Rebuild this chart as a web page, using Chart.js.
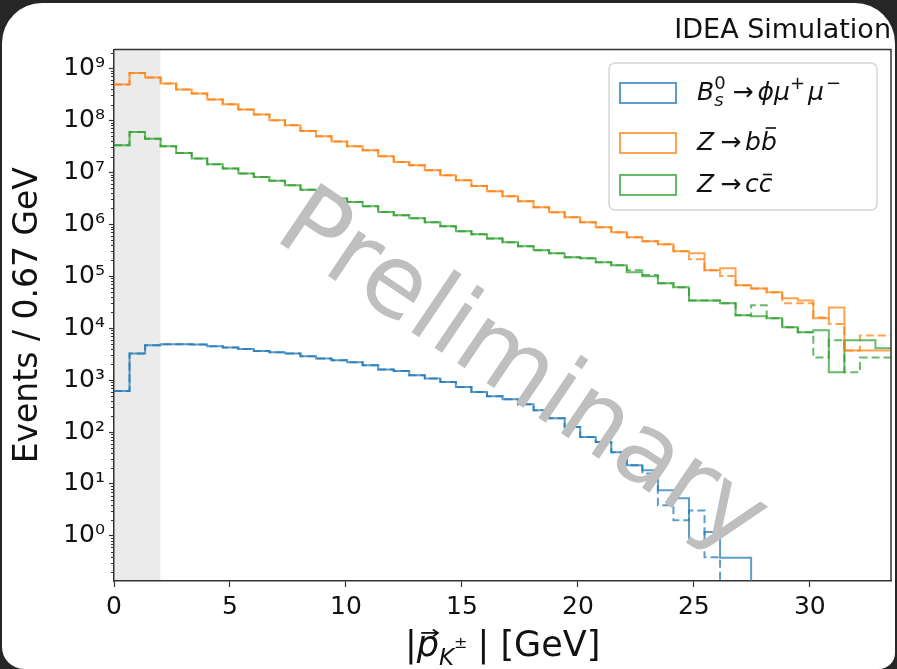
<!DOCTYPE html>
<html>
<head>
<meta charset="utf-8">
<script src="https://cdn.jsdelivr.net/npm/chart.js@4.4.1/dist/chart.umd.min.js"></script>
<style>
  html, body { margin: 0; padding: 0; }
  body { width: 897px; height: 669px; background: #262626; position: relative; overflow: hidden; }
  #frame { position: absolute; left: 2px; top: 3px; width: 893px; height: 666px; background: #fff;
           border-radius: 40px 40px 16px 22px; }
  #chart { position: absolute; left: 0; top: 0; }
</style>
</head>
<body>
<div id="frame"></div>
<canvas id="chart" width="897" height="669"></canvas>
<script>
// Histogram binning (GeV)
const binWidth = 0.67;
const xMax = 33.5;
const shadeRange = [0, 2];

// Events per bin (0 = empty bin)
const bsSolid = [617, 3240, 4670, 4880, 4880, 4820, 4470, 4220, 3960, 3630,
  3430, 3240, 2870, 2590, 2400, 2200, 1930, 1590, 1500, 1240,
  1070, 920, 736, 590, 488, 427, 342, 262, 184, 125,
  80, 64, 41, 23, 18.4, 7.6, 5.3, 0.77, 1.19, 0.38,
  0.38, 0, 0, 0, 0, 0, 0, 0, 0, 0];
const bsDashed = [617, 3240, 4670, 4880, 4880, 4820, 4470, 4220, 3960, 3630,
  3430, 3240, 2870, 2590, 2400, 2200, 1930, 1590, 1500, 1240,
  1070, 920, 736, 590, 488, 427, 342, 262, 184, 125,
  80, 64, 41, 23, 16, 3.9, 2.0, 3.1, 0.39, 0,
  0, 0, 0, 0, 0, 0, 0, 0, 0, 0];
const bbSolid = [4.85e8, 8.1e8, 6.6e8, 5.1e8, 3.9e8, 3.26e8, 2.5e8, 2.03e8, 1.6e8, 1.29e8,
  1.0e8, 8.0e7, 6.2e7, 4.9e7, 3.9e7, 3.15e7, 2.64e7, 2.02e7, 1.57e7, 1.36e7,
  1.09e7, 8.7e6, 7.0e6, 5.4e6, 4.3e6, 3.44e6, 2.75e6, 2.11e6, 1.69e6, 1.36e6,
  1.09e6, 8.7e5, 7.0e5, 5.6e5, 4.7e5, 4.1e5, 3.0e5, 2.75e5, 1.3e5, 1.42e5,
  6.7e4, 5.8e4, 4.9e4, 3.75e4, 3.4e4, 1.55e4, 2.5e4, 3.7e3, 3.7e3, 3.7e3];
const bbDashed = [4.85e8, 8.1e8, 6.6e8, 5.1e8, 3.9e8, 3.26e8, 2.5e8, 2.03e8, 1.6e8, 1.29e8,
  1.0e8, 8.0e7, 6.2e7, 4.9e7, 3.9e7, 3.15e7, 2.64e7, 2.02e7, 1.57e7, 1.36e7,
  1.09e7, 8.7e6, 7.0e6, 5.4e6, 4.3e6, 3.44e6, 2.75e6, 2.11e6, 1.69e6, 1.36e6,
  1.09e6, 8.7e5, 7.0e5, 5.6e5, 4.7e5, 4.1e5, 3.0e5, 2.1e5, 1.3e5, 1.0e5,
  6.7e4, 5.8e4, 4.9e4, 3.0e4, 3.0e4, 1.6e4, 1.2e4, 3.7e3, 7.2e3, 7.2e3];
const ccSolid = [3.3e7, 5.9e7, 4.4e7, 3.15e7, 2.34e7, 1.83e7, 1.42e7, 1.17e7, 9.4e6, 8.1e6,
  6.8e6, 5.6e6, 4.6e6, 3.6e6, 3.1e6, 2.67e6, 2.21e6, 1.71e6, 1.48e6, 1.3e6,
  1.09e6, 9.1e5, 7.3e5, 6.4e5, 5.3e5, 4.5e5, 3.75e5, 3.14e5, 2.75e5, 2.3e5,
  2.2e5, 1.85e5, 1.62e5, 1.19e5, 9.9e4, 7.3e4, 6.1e4, 3.4e4, 3.4e4, 3.0e4,
  1.77e4, 1.69e4, 1.55e4, 1.04e4, 8.3e3, 9.1e3, 1.41e3, 5.8e3, 5.8e3, 4.1e3];
const ccDashed = [3.3e7, 5.9e7, 4.4e7, 3.15e7, 2.34e7, 1.83e7, 1.42e7, 1.17e7, 9.4e6, 8.1e6,
  6.8e6, 5.6e6, 4.6e6, 3.6e6, 3.1e6, 2.67e6, 2.21e6, 1.71e6, 1.48e6, 1.3e6,
  1.09e6, 9.1e5, 7.3e5, 6.4e5, 5.3e5, 4.5e5, 3.75e5, 3.14e5, 2.75e5, 2.3e5,
  2.2e5, 1.85e5, 1.62e5, 1.3e5, 1.05e5, 7.3e4, 6.1e4, 3.4e4, 3.4e4, 3.0e4,
  1.77e4, 2.75e4, 1.55e4, 1.04e4, 8.3e3, 2.7e3, 5.8e3, 1.41e3, 2.7e3, 2.7e3];

// Axis ticks
const xTickValues = [0, 5, 10, 15, 20, 25, 30];
const yTickValues = [1e0, 1e1, 1e2, 1e3, 1e4, 1e5, 1e6, 1e7, 1e8, 1e9];
const yTickLabels = ['10⁰', '10¹', '10²', '10³', '10⁴', '10⁵', '10⁶', '10⁷', '10⁸', '10⁹'];
const yMin = 0.136;
const yMax = 2.3e9;

const FONT = '"DejaVu Sans", "Liberation Sans", sans-serif';
const colors = {
  bs: 'rgba(31,119,180,0.72)',
  bb: 'rgba(255,127,14,0.72)',
  cc: 'rgba(44,160,44,0.72)'
};

// step outline: one point per bin edge, empty bins pushed below the axis
function stepPoints(values) {
  const pts = values.map((v, i) => ({ x: i * binWidth, y: v > 0 ? v : 1e-3 }));
  pts.push({ x: xMax, y: pts[pts.length - 1].y });
  return pts;
}

function histSet(values, color, dashed) {
  return {
    data: stepPoints(values),
    borderColor: color,
    borderWidth: 2,
    borderDash: dashed ? [8, 4] : [],
    stepped: 'before',
    pointRadius: 0,
    fill: false
  };
}

// draw a run of text pieces (math-like labels)
function drawRich(ctx, x, y, parts, color) {
  let cx = x;
  ctx.fillStyle = color;
  ctx.strokeStyle = color;
  ctx.textAlign = 'left';
  ctx.textBaseline = 'alphabetic';
  for (const p of parts) {
    if (p.gap) { cx += p.gap; continue; }
    ctx.font = `${p.style || 'normal'} ${p.size}px ${FONT}`;
    const w = ctx.measureText(p.t).width;
    ctx.fillText(p.t, cx, y + (p.dy || 0));
    if (p.bar) {
      const by = y - p.size * p.bar;
      ctx.lineWidth = 1.6;
      ctx.beginPath();
      ctx.moveTo(cx + w * 0.3, by);
      ctx.lineTo(cx + w * 0.95, by);
      ctx.stroke();
    }
    if (p.arrow) {
      const ay = y - p.size * 0.66;
      const x0 = cx + w * 0.2, x1 = cx + w * 0.95;
      ctx.lineWidth = 1.8;
      ctx.beginPath();
      ctx.moveTo(x0, ay); ctx.lineTo(x1, ay);
      ctx.moveTo(x1 - 5, ay - 3.5); ctx.lineTo(x1, ay); ctx.lineTo(x1 - 5, ay + 3.5);
      ctx.stroke();
    }
    if (!p.stack) cx += w;
  }
  return cx;
}

const legendEntries = [
  { color: colors.bs, parts: [
    { t: 'B', size: 25, style: 'italic' },
    { t: 's', size: 18, style: 'italic', dy: 6, stack: true },
    { t: '0', size: 18, dy: -11 },
    { gap: 7 }, { t: '→', size: 25 }, { gap: 4 },
    { t: 'ϕ', size: 25, style: 'italic' }, { t: 'μ', size: 25, style: 'italic' },
    { t: '+', size: 18, dy: -11 }, { gap: 3 },
    { t: 'μ', size: 25, style: 'italic' }, { gap: 2 }, { t: '−', size: 18, dy: -11 }
  ] },
  { color: colors.bb, parts: [
    { t: 'Z', size: 25, style: 'italic' }, { gap: 6 }, { t: '→', size: 25 }, { gap: 4 },
    { t: 'b', size: 25, style: 'italic' }, { t: 'b', size: 25, style: 'italic', bar: 0.88 }
  ] },
  { color: colors.cc, parts: [
    { t: 'Z', size: 25, style: 'italic' }, { gap: 6 }, { t: '→', size: 25 }, { gap: 4 },
    { t: 'c', size: 25, style: 'italic' }, { t: 'c', size: 25, style: 'italic', bar: 0.7 }
  ] }
];

const xLabelParts = [
  { t: '|', size: 35 },
  { t: 'p', size: 35, style: 'italic', arrow: true },
  { t: 'K', size: 23, style: 'italic', dy: 9 },
  { t: '±', size: 16, dy: -8 }, { gap: 10 },
  { t: '|', size: 35 },
  { t: ' [GeV]', size: 35 }
];

const extras = {
  id: 'extras',
  beforeDraw(chart) {
    const { ctx, chartArea: a, scales: { x } } = chart;
    ctx.save();
    ctx.fillStyle = '#ebebeb';
    const x0 = x.getPixelForValue(shadeRange[0]);
    const x1 = x.getPixelForValue(shadeRange[1]);
    ctx.fillRect(x0, a.top, x1 - x0, a.bottom - a.top);
    ctx.restore();
  },
  afterDraw(chart) {
    const { ctx, chartArea: a, scales: { y } } = chart;
    ctx.save();
    // minor log ticks
    ctx.strokeStyle = '#333';
    ctx.lineWidth = 1;
    for (let e = -1; e <= 9; e++) {
      for (let m = 2; m <= 9; m++) {
        const v = m * Math.pow(10, e);
        if (v < y.min || v > y.max) continue;
        const py = Math.round(y.getPixelForValue(v)) + 0.5;
        ctx.beginPath(); ctx.moveTo(a.left - 3, py); ctx.lineTo(a.left, py); ctx.stroke();
      }
    }
    // top and right spines
    ctx.lineWidth = 1.5;
    ctx.beginPath();
    ctx.moveTo(a.left, a.top); ctx.lineTo(a.right, a.top); ctx.lineTo(a.right, a.bottom);
    ctx.stroke();

    // watermark
    ctx.save();
    ctx.translate(506, 396);
    ctx.rotate(34 * Math.PI / 180);
    ctx.font = `100px ${FONT}`;
    ctx.fillStyle = '#bfbfbf';
    ctx.textAlign = 'center';
    ctx.textBaseline = 'alphabetic';
    ctx.fillText('Preliminary', 0, 0);
    ctx.restore();

    // legend
    const lx = 609, ly = 63, lw = 268, lh = 147;
    ctx.beginPath();
    ctx.roundRect(lx, ly, lw, lh, 6);
    ctx.fillStyle = 'rgba(255,255,255,0.85)';
    ctx.fill();
    ctx.strokeStyle = '#d5d5d5';
    ctx.lineWidth = 1.5;
    ctx.stroke();
    const baselines = [100, 150, 192];
    legendEntries.forEach((ent, i) => {
      const b = baselines[i];
      ctx.strokeStyle = ent.color;
      ctx.lineWidth = 2;
      ctx.strokeRect(620, b - 17, 56, 20);
      drawRich(ctx, 697, b, ent.parts, '#111');
    });

    // x axis label
    drawRich(ctx, 405, 656, xLabelParts, '#111');
    ctx.restore();
  }
};

const tickFont = { family: FONT, size: 25 };

new Chart(document.getElementById('chart'), {
  type: 'line',
  data: {
    datasets: [
      histSet(bsSolid, colors.bs, false),
      histSet(bbSolid, colors.bb, false),
      histSet(ccSolid, colors.cc, false),
      histSet(bsDashed, colors.bs, true),
      histSet(bbDashed, colors.bb, true),
      histSet(ccDashed, colors.cc, true)
    ]
  },
  options: {
    responsive: false,
    animation: false,
    devicePixelRatio: 1,
    layout: { padding: { top: 0, right: 6, left: 0, bottom: 0 } },
    plugins: {
      legend: { display: false },
      tooltip: { enabled: false },
      title: {
        display: true,
        text: 'IDEA Simulation',
        align: 'end',
        color: '#111',
        font: { family: FONT, size: 27, weight: 'normal', lineHeight: 1.2 },
        padding: { top: 15, bottom: 2 }
      }
    },
    scales: {
      x: {
        type: 'linear',
        min: 0,
        max: xMax,
        afterBuildTicks: (s) => { s.ticks = xTickValues.map(v => ({ value: v })); },
        afterFit: (s) => { s.height = 88; },
        ticks: { font: tickFont, color: '#111', padding: 5, maxRotation: 0, callback: (v) => String(v) },
        grid: { drawOnChartArea: false, tickLength: 6, tickColor: '#333', tickWidth: 1.2 },
        border: { color: '#333', width: 1.5 }
      },
      y: {
        type: 'logarithmic',
        min: yMin,
        max: yMax,
        afterBuildTicks: (s) => { s.ticks = yTickValues.map(v => ({ value: v })); },
        afterFit: (s) => { s.width = 114; },
        ticks: { font: tickFont, color: '#111', padding: 4, autoSkip: false,
                 callback: (v, i) => yTickLabels[i] },
        grid: { drawOnChartArea: false, tickLength: 5, tickColor: '#333', tickWidth: 1.2 },
        border: { color: '#333', width: 1.5 },
        title: {
          display: true,
          text: 'Events / 0.67 GeV',
          color: '#111',
          font: { family: FONT, size: 33, lineHeight: 1.2 },
          padding: { top: 9, bottom: 0 }
        }
      }
    }
  },
  plugins: [extras]
});
</script>
</body>
</html>
